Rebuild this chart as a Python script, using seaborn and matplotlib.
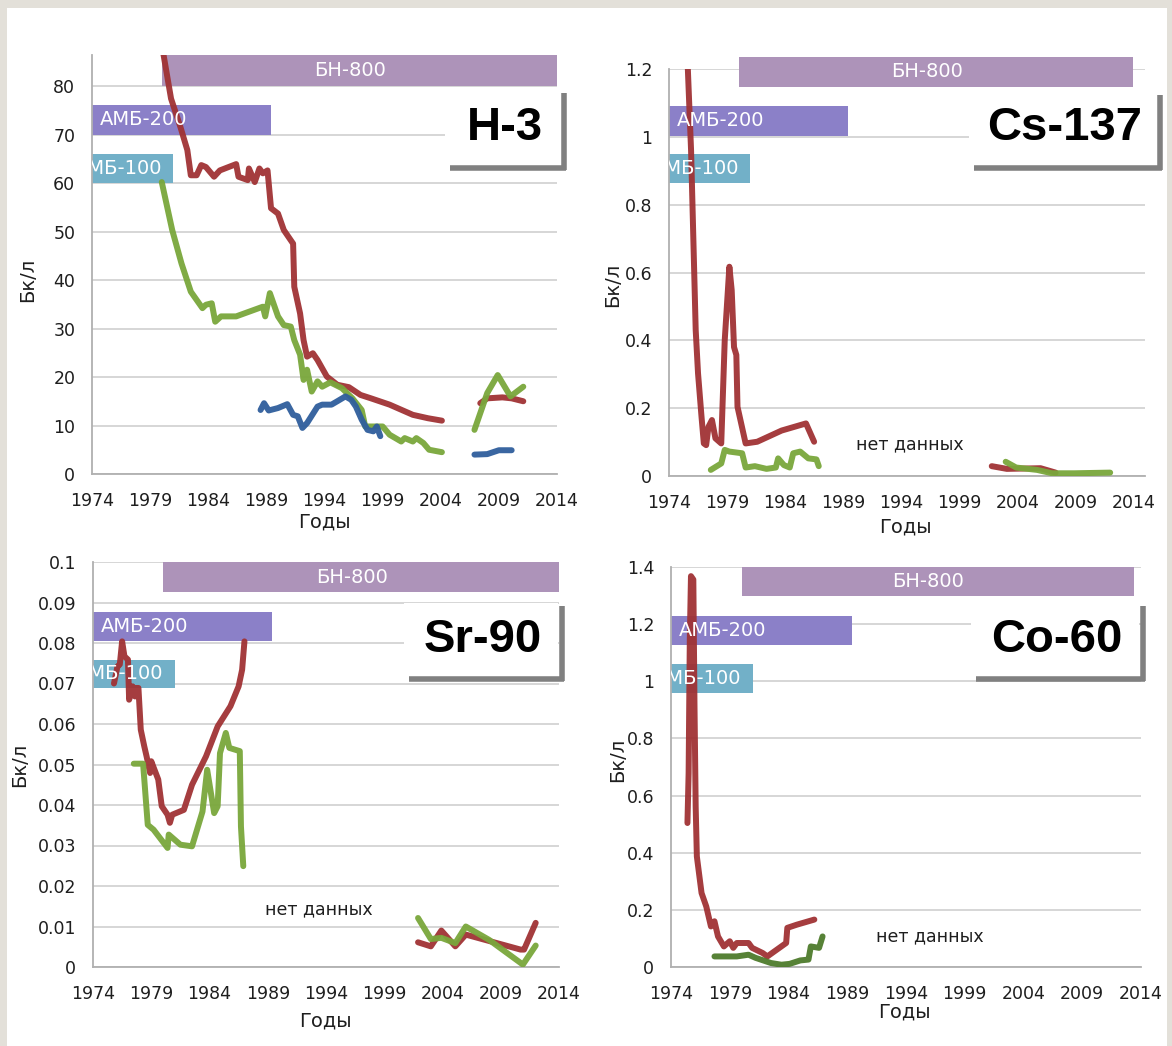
import matplotlib.pyplot as plt
import matplotlib.patches as mpatches
from matplotlib.lines import Line2D
from matplotlib.ticker import FuncFormatter
import pandas as pd
import seaborn as sns

# ---- H-3 ----
h3_red_x1 = [1979.9, 1980.8, 1981.6, 1982.2, 1982.5, 1983.0, 1983.4, 1983.8, 1984.5, 1985.0,
             1986.4, 1986.6, 1987.4, 1987.5, 1988.0, 1988.4, 1988.7, 1989.1, 1989.4, 1990.0,
             1990.5, 1991.3, 1991.4, 1991.9, 1992.2, 1992.5, 1993.0, 1993.4, 1994.2, 1995.1,
             1996.1, 1997.1, 1998.0, 1999.6, 2001.6, 2002.9, 2004.1]
h3_red_y1 = [90, 77.4, 71.6, 66.8, 61.6, 61.6, 63.7, 63.3, 61.3, 62.6,
             63.9, 61.3, 60.6, 63.0, 60.2, 63.0, 62.0, 62.6, 54.8, 53.7,
             50.3, 47.5, 38.6, 33.1, 27.6, 24.2, 24.9, 23.5, 20.1, 18.4,
             17.9, 16.3, 15.6, 14.3, 12.2, 11.5, 11.0]
h3_red_x2 = [2007.4, 2008.0, 2009.3, 2010.1, 2011.1]
h3_red_y2 = [14.6, 15.6, 15.8, 15.6, 15.0]

h3_green_x1 = [1980.0, 1980.9, 1981.7, 1982.5, 1983.5, 1983.8, 1984.3, 1984.6, 1985.1, 1986.4,
               1988.7, 1988.9, 1989.3, 1990.0, 1990.5, 1991.1, 1991.4, 1991.9, 1992.2, 1992.5,
               1992.9, 1993.4, 1993.8, 1994.5, 1995.5, 1996.4, 1997.2, 1997.5, 1999.0, 1999.6,
               2000.6, 2000.9, 2001.6, 2001.9, 2002.5, 2003.0, 2004.1]
h3_green_y1 = [60.2, 50.3, 43.4, 37.6, 34.2, 34.9, 35.2, 31.4, 32.5, 32.5,
               34.5, 32.5, 37.3, 32.5, 30.7, 30.4, 27.6, 24.6, 19.4, 21.5,
               17.0, 19.1, 18.0, 18.9, 17.7, 15.6, 13.2, 9.8, 9.8, 8.1,
               6.7, 7.4, 6.7, 7.4, 6.4, 5.0, 4.5]
h3_green_x2 = [2006.9, 2008.0, 2008.9, 2010.0, 2011.1]
h3_green_y2 = [9.1, 16.7, 20.4, 16.0, 18.0]

h3_blue_x1 = [1988.5, 1988.8, 1989.2, 1990.0, 1990.8, 1991.3, 1991.7, 1992.1, 1992.5, 1993.4,
              1993.8, 1994.6, 1995.1, 1995.8, 1996.3, 1996.7, 1997.2, 1997.7, 1998.2, 1998.5, 1998.8]
h3_blue_y1 = [13.2, 14.6, 13.1, 13.6, 14.4, 12.2, 11.9, 9.5, 10.5, 13.9,
              14.3, 14.3, 15.0, 16.0, 15.3, 13.9, 11.2, 9.1, 8.8, 9.8, 7.8]
h3_blue_x2 = [2006.9, 2008.0, 2009.0, 2010.1]
h3_blue_y2 = [4.0, 4.1, 4.9, 4.9]

# ---- Cs-137 ----
cs_red_x1 = [1975.6, 1975.9, 1976.1, 1976.3, 1976.5, 1976.8, 1977.0, 1977.2, 1977.4, 1977.7,
             1978.0, 1978.5, 1978.8, 1979.2, 1979.4, 1979.6, 1979.8, 1979.9, 1980.6, 1981.6,
             1983.7, 1985.8, 1986.5]
cs_red_y1 = [1.22, 0.961, 0.696, 0.43, 0.303, 0.175, 0.096, 0.091, 0.145, 0.165,
             0.111, 0.096, 0.40, 0.617, 0.548, 0.38, 0.357, 0.204, 0.096, 0.101,
             0.134, 0.155, 0.101]
cs_red_x2 = [2001.8, 2003.1, 2006.0, 2007.3]
cs_red_y2 = [0.029, 0.021, 0.023, 0.010]
cs_green_x1 = [1977.6, 1978.5, 1978.8, 1979.2, 1980.3, 1980.6, 1981.4, 1982.4, 1983.2, 1983.4,
               1983.9, 1984.4, 1984.7, 1985.3, 1986.0, 1986.7, 1986.9]
cs_green_y1 = [0.018, 0.037, 0.077, 0.072, 0.067, 0.025, 0.029, 0.021, 0.025, 0.052,
               0.032, 0.025, 0.067, 0.072, 0.052, 0.049, 0.029]
cs_green_x2 = [2003.0, 2003.9, 2005.7, 2007.0, 2008.9, 2012.0]
cs_green_y2 = [0.042, 0.025, 0.018, 0.008, 0.008, 0.010]

# ---- Sr-90 ----
sr_red_x1 = [1975.8, 1976.1, 1976.3, 1976.5, 1976.7, 1977.0, 1977.1, 1977.4, 1977.6, 1977.7,
             1977.9, 1978.1, 1978.4, 1978.6, 1978.9, 1979.0, 1979.6, 1979.9, 1980.4, 1980.6,
             1980.8, 1981.8, 1982.5, 1983.7, 1984.7, 1985.8, 1986.5, 1986.8, 1987.0]
sr_red_y1 = [0.070, 0.0742, 0.0747, 0.0804, 0.0767, 0.0759, 0.066, 0.0693, 0.0668, 0.0689,
             0.0689, 0.0586, 0.0545, 0.052, 0.0479, 0.0508, 0.0463, 0.0397, 0.0376, 0.0356,
             0.0376, 0.0388, 0.045, 0.052, 0.0594, 0.0644, 0.0693, 0.0734, 0.0804]
sr_red_x2 = [2001.9, 2003.0, 2003.9, 2005.1, 2006.0, 2010.7, 2011.0, 2012.0]
sr_red_y2 = [0.0061, 0.0051, 0.009, 0.0051, 0.008, 0.0043, 0.0043, 0.0109]
sr_green_x1 = [1977.5, 1978.3, 1978.7, 1979.2, 1980.4, 1980.5, 1981.5, 1982.5, 1983.4, 1983.8,
               1984.4, 1984.7, 1984.9, 1985.4, 1985.7, 1986.6, 1986.7, 1986.9]
sr_green_y1 = [0.0502, 0.0502, 0.0351, 0.0339, 0.0294, 0.0327, 0.0302, 0.0298, 0.0384, 0.0487,
               0.038, 0.0397, 0.0528, 0.0578, 0.0541, 0.0533, 0.0347, 0.0249]
sr_green_x2 = [2001.9, 2003.0, 2003.9, 2005.1, 2006.0, 2008.0, 2010.9, 2012.0]
sr_green_y2 = [0.0121, 0.0069, 0.0072, 0.0059, 0.010, 0.0067, 0.0006, 0.0053]

# ---- Co-60 ----
co_red_x = [1975.4, 1975.5, 1975.6, 1975.7, 1975.9, 1976.0, 1976.1, 1976.2, 1976.6, 1977.0,
            1977.4, 1977.7, 1978.0, 1978.5, 1979.0, 1979.3, 1979.6, 1980.6, 1980.9, 1981.8,
            1982.2, 1983.8, 1983.9, 1984.7, 1986.2]
co_red_y = [0.504, 0.679, 1.146, 1.368, 1.356, 0.913, 0.562, 0.387, 0.259, 0.212,
            0.142, 0.160, 0.107, 0.072, 0.090, 0.067, 0.084, 0.084, 0.067, 0.049,
            0.037, 0.084, 0.137, 0.148, 0.166]
co_green_x = [1977.7, 1979.6, 1980.6, 1981.2, 1982.5, 1983.4, 1984.1, 1985.0, 1985.7, 1985.9,
              1986.6, 1986.9]
co_green_y = [0.037, 0.037, 0.043, 0.032, 0.014, 0.008, 0.011, 0.023, 0.026, 0.072,
              0.067, 0.107]

# reactor operating periods
reactors = ['АМБ-100', 'АМБ-200', 'БН-800']
reactor_start = [1974, 1974, 1980]
reactor_end = [1981, 1989.4, 2014]

isotopes = ['H-3', 'Cs-137', 'Sr-90', 'Co-60']
no_data = 'нет данных'

colors = {'red': '#a03234', 'green': '#79a73b', 'blue': '#2f5e9c', 'dkgreen': '#4e7b2c'}
bar_colors = {'АМБ-100': '#72b0c8', 'АМБ-200': '#8b80c8', 'БН-800': '#ad93b9'}


def frame(segments):
    rows = []
    for i, (name, xs, ys) in enumerate(segments):
        for x, y in zip(xs, ys):
            rows.append({'year': x, 'value': y, 'series': name, 'seg': i})
    return pd.DataFrame(rows)


panels = [
    dict(df=frame([('red', h3_red_x1, h3_red_y1), ('red', h3_red_x2, h3_red_y2),
                   ('green', h3_green_x1, h3_green_y1), ('green', h3_green_x2, h3_green_y2),
                   ('blue', h3_blue_x1, h3_blue_y1), ('blue', h3_blue_x2, h3_blue_y2)]),
         rect=(92, 557, 55, 474), xlim=(1974, 2014), ylim=(0, 86.4), yticks=range(0, 81, 10),
         bars={'БН-800': (80, 86.4), 'АМБ-200': (70, 76), 'АМБ-100': (60, 66)},
         bn_end=2014, nodata=None,
         box=(445, 560, 90, 165), ylab=(-0.118, 0.463), xlab=(0.499, -0.093)),
    dict(df=frame([('red', cs_red_x1, cs_red_y1), ('red', cs_red_x2, cs_red_y2),
                   ('green', cs_green_x1, cs_green_y1), ('green', cs_green_x2, cs_green_y2)]),
         rect=(669, 1145, 69, 476), xlim=(1974, 2015), ylim=(0, 1.2),
         yticks=[0, 0.2, 0.4, 0.6, 0.8, 1.0, 1.2],
         bars={'БН-800': (1.148, 1.236), 'АМБ-200': (1.003, 1.091), 'АМБ-100': (0.863, 0.948)},
         bn_end=2014, nodata=(1994.7, 0.094),
         box=(969, 1156, 92, 165), ylab=(-0.099, 0.469), xlab=(0.496, -0.103)),
    dict(df=frame([('red', sr_red_x1, sr_red_y1), ('red', sr_red_x2, sr_red_y2),
                   ('green', sr_green_x1, sr_green_y1), ('green', sr_green_x2, sr_green_y2)]),
         rect=(93, 559, 562, 967), xlim=(1974, 2014), ylim=(0, 0.1),
         yticks=[0, 0.01, 0.02, 0.03, 0.04, 0.05, 0.06, 0.07, 0.08, 0.09, 0.1],
         bars={'БН-800': (0.0925, 0.1), 'АМБ-200': (0.0806, 0.0877), 'АМБ-100': (0.0688, 0.0759)},
         bn_end=2014, nodata=(1993.4, 0.0142),
         box=(404, 558, 603, 676), ylab=(-0.137, 0.499), xlab=(0.499, -0.109)),
    dict(df=frame([('red', co_red_x, co_red_y), ('dkgreen', co_green_x, co_green_y)]),
         rect=(671, 1141, 567, 967), xlim=(1974, 2014), ylim=(0, 1.4),
         yticks=[0, 0.2, 0.4, 0.6, 0.8, 1.0, 1.2, 1.4],
         bars={'БН-800': (1.297, 1.4), 'АМБ-200': (1.128, 1.227), 'АМБ-100': (0.959, 1.06)},
         bn_end=2013.4, nodata=(1996.0, 0.107),
         box=(971, 1139, 603, 676), ylab=(-0.093, 0.517), xlab=(0.496, -0.0875)),
]

sns.set_theme(style='white')
plt.rcParams['font.family'] = ['DejaVu Sans']

W, H = 1172, 1046
fig = plt.figure(figsize=(W / 100, H / 100), dpi=100)
fig.patch.set_facecolor('#e3e0d9')
fig.add_artist(mpatches.Rectangle((7 / W, 0), (1167 - 7) / W, (H - 8) / H,
                                  transform=fig.transFigure, facecolor='white',
                                  edgecolor='none', zorder=-5))


def fx(x):
    return x / W


def fy(y):
    return 1 - y / H


fmt = FuncFormatter(lambda v, p: '%g' % round(v, 4))

for name, p in zip(isotopes, panels):
    x0, x1, yt, yb = p['rect']
    ax = fig.add_axes([fx(x0), fy(yb), (x1 - x0) / W, (yb - yt) / H])
    ax.set_facecolor('white')

    # reactor period bars
    for r, s, e in zip(reactors, reactor_start, reactor_end):
        lo, hi = p['bars'][r]
        end = p['bn_end'] if r == 'БН-800' else e
        ax.add_patch(mpatches.Rectangle((s, lo), end - s, hi - lo, facecolor=bar_colors[r],
                                        edgecolor='none', clip_on=False, zorder=2))
        ymid = (lo + hi) / 2
        if r == 'БН-800':
            ax.text((s + end) / 2 - 0.8, ymid, r, color='white', fontsize=14,
                    ha='center', va='center', zorder=4, clip_on=False)
        elif r == 'АМБ-200':
            ax.text(s + 0.7, ymid, r, color='white', fontsize=14,
                    ha='left', va='center', zorder=4)
        else:
            ax.text(s - 1.5, ymid, r, color='white', fontsize=14,
                    ha='left', va='center', zorder=4, clip_on=True)

    sns.lineplot(data=p['df'], x='year', y='value', hue='series', units='seg',
                 estimator=None, sort=False, palette=colors, linewidth=4.3,
                 legend=False, ax=ax, zorder=3, solid_capstyle='round', alpha=0.95)

    ax.set_xlim(*p['xlim'])
    ax.set_ylim(*p['ylim'])
    ax.set_xticks(range(1974, 2015, 5))
    ax.set_yticks(list(p['yticks']))
    ax.yaxis.set_major_formatter(fmt)
    ax.yaxis.grid(True, color='#d3d3d3', linewidth=1.3)
    ax.set_axisbelow(True)
    for sp in ['top', 'right']:
        ax.spines[sp].set_visible(False)
    for sp in ['left', 'bottom']:
        ax.spines[sp].set_color('#b0b0b0')
        ax.spines[sp].set_linewidth(1.3)
    ax.tick_params(axis='both', direction='out', length=5, width=1.2, color='#b0b0b0',
                   labelsize=12.5, labelcolor='#1e1e1e')
    ax.tick_params(axis='x', pad=8)
    ax.tick_params(axis='y', pad=7)

    ax.set_ylabel('Бк/л', fontsize=14, color='#1e1e1e')
    ax.set_xlabel('Годы', fontsize=14, color='#1e1e1e')
    ax.yaxis.set_label_coords(*p['ylab'])
    ax.xaxis.set_label_coords(*p['xlab'])

    if p['nodata'] is not None:
        ax.text(p['nodata'][0], p['nodata'][1], no_data, fontsize=12.5, color='#1e1e1e',
                ha='center', va='center', zorder=4)

    # isotope name box with shadow
    bx0, bx1, by0, by1 = p['box']
    fig.add_artist(mpatches.Rectangle((fx(bx0), fy(by1)), (bx1 - bx0) / W, (by1 - by0) / H,
                                      transform=fig.transFigure, facecolor='white',
                                      edgecolor='none', zorder=5))
    fig.add_artist(Line2D([fx(bx1 + 3.5), fx(bx1 + 3.5)], [fy(by0 + 3), fy(by1 + 5)],
                          transform=fig.transFigure, color='#808080', linewidth=4,
                          solid_capstyle='butt', zorder=6))
    fig.add_artist(Line2D([fx(bx0 + 5), fx(bx1 + 5.5)], [fy(by1 + 3), fy(by1 + 3)],
                          transform=fig.transFigure, color='#808080', linewidth=4,
                          solid_capstyle='butt', zorder=6))
    fig.text(fx((bx0 + bx1) / 2 + 2), fy((by0 + by1) / 2), name,
             family=['Liberation Sans', 'DejaVu Sans'], fontweight='bold', fontsize=34,
             ha='center', va='center', color='black', zorder=7)

fig.savefig('out.png', dpi=100)
